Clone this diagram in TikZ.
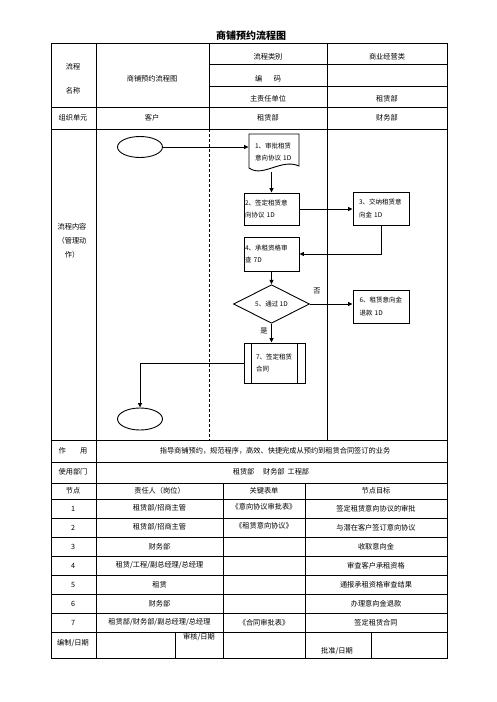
\documentclass[tikz,border=0pt]{standalone}
\usepackage{fontspec}
\setmainfont{Noto Sans CJK SC}
\usetikzlibrary{shapes.geometric,arrows.meta}

\begin{document}
\begin{tikzpicture}[x=1pt,y=-1pt,
  txt/.style={font=\fontsize{7.2}{9}\selectfont, inner sep=0pt},
  box/.style={draw, line width=0.9pt, font=\fontsize{6.5}{12.5}\selectfont,
              align=left, inner sep=0pt},
  term/.style={draw, ellipse, line width=0.9pt, minimum width=45,
               minimum height=21, inner sep=0pt},
  arr/.style={line width=0.9pt, -{Triangle[length=4.5pt,width=4pt]}},
  grid/.style={line width=0.7pt}]
  \useasboundingbox (0,0) rectangle (496,702);
  \node[font=\fontsize{10}{12}\selectfont\bfseries] (title) at (251,36) {商铺预约流程图};
  % frame and rules
  \draw[grid] (51,43) rectangle (447,658);
  \foreach \y in {64,86} \draw[grid] (209,\y) -- (447,\y);
  \foreach \y in {107,129,440,462,483,499,518,537,556,575,594,613,632}
    \draw[grid] (51,\y) -- (447,\y);
  \draw[grid] (96,43) -- (96,658);
  \draw[grid] (209,43) -- (209,129);
  \draw[grid, dash pattern=on 3pt off 2pt] (209,129) -- (209,440);
  \draw[grid] (327,43) -- (327,440);
  \draw[grid] (223,483) -- (223,658);
  \draw[grid] (305,483) -- (305,658);
  \draw[grid] (175,632) -- (175,658);
  \draw[grid] (371,632) -- (371,658);
  % header
  \node[txt] (hd1) at (73,67) {流程};
  \node[txt] (hd2) at (73,91) {名称};
  \node[txt] (hd3) at (152,79) {商铺预约流程图};
  \node[txt] (hd4) at (268,57) {流程类别};
  \node[txt] (hd5) at (387,57) {商业经营类};
  \node[txt] (hd6) at (268,79) {编\hspace{1.6em}码};
  \node[txt] (hd7) at (268,99) {主责任单位};
  \node[txt] (hd8) at (387,99) {租赁部};
  \node[txt] (un1) at (73,118) {组织单元};
  \node[txt] (un2) at (152,118) {客户};
  \node[txt] (un3) at (268,118) {租赁部};
  \node[txt] (un4) at (387,118) {财务部};
  \node[txt, align=center, font=\fontsize{7.2}{14}\selectfont] (lane) at (72,241)
    {流程内容\\（管理动\\作）};
  % flow
  \node[term] (start) at (140,147) {};
  \node[box, draw=none, minimum width=50, minimum height=40, text width=38] (d1)
    at (274,152) {1、审批租赁\\意向协议 1D};
  \draw[line width=0.9pt] (249,168) -- (249,134) -- (299,134) -- (299,166)
    .. controls (281,158) and (263,178) .. cycle;
  \node[box, minimum width=55, minimum height=32, text width=53] (b2)
    at (271.5,209) {2、签定租赁意\\向协议 1D};
  \node[box, minimum width=56, minimum height=33, text width=44] (b3)
    at (381,208.5) {3、交纳租赁意\\向金 1D};
  \node[box, minimum width=55, minimum height=34, text width=53] (b4)
    at (271.5,254) {4、承租资格审\\查 7D};
  \node[draw, diamond, line width=0.9pt, minimum width=76, minimum height=38,
        inner sep=0pt, font=\fontsize{6.5}{8}\selectfont] (dec) at (271.5,304) {5、通过 1D};
  \node[box, minimum width=56, minimum height=33, text width=43] (b6)
    at (381,306.5) {6、租赁意向金\\退款 1D};
  \node[box, minimum width=61, minimum height=40, text width=37] (b7)
    at (274.5,363) {7、签定租赁\\合同};
  \draw[line width=0.9pt] ([xshift=8pt]b7.north west) -- ([xshift=8pt]b7.south west);
  \draw[line width=0.9pt] ([xshift=-8pt]b7.north east) -- ([xshift=-8pt]b7.south east);
  \node[term, minimum height=22] (end) at (140,419) {};
  \draw[arr] (start.east) -- (start.east -| d1.west);
  \draw[arr] (b2.north |- d1.south) -- (b2.north);
  \draw[arr] (b2.east) -- (b2.east -| b3.west);
  \draw[arr] (b3.south) |- (b4.east);
  \draw[arr] (b4.south) -- (dec.north);
  \draw[arr] (dec.east) -- (dec.east -| b6.west);
  \draw[arr] (dec.south) -- (b7.north -| dec.south);
  \draw[arr] (b7.west) -| (end.north);
  \node[txt] (no) at (317,291) {否};
  \node[txt] (yes) at (264,331) {是};
  % purpose and departments
  \node[txt] (use1) at (73,451) {作\hspace{2em}用};
  \node[txt] (use2) at (275,451) {指导商铺预约，规范程序，高效、快捷完成从预约到租赁合同签订的业务};
  \node[txt] (dep1) at (73,472) {使用部门};
  \node[txt] (dep2) at (271,472) {租赁部\hspace{1.2em}财务部\hspace{0.4em}工程部};
  % node table
  \node[txt] (th1) at (73,491) {节点};
  \node[txt] (th2) at (159.5,491) {责任人（岗位）};
  \node[txt] (th3) at (264,491) {关键表单};
  \node[txt] (th4) at (376,491) {节点目标};
  \node[txt] (r1a) at (73,508.5) {1};
  \node[txt] (r1b) at (159.5,508.5) {租赁部/招商主管};
  \node[txt] (r1c) at (264,507) {《意向协议审批表》};
  \node[txt] (r1d) at (376,508.5) {签定租赁意向协议的审批};
  \node[txt] (r2a) at (73,527.5) {2};
  \node[txt] (r2b) at (159.5,527.5) {租赁部/招商主管};
  \node[txt] (r2c) at (264,526) {《租赁意向协议》};
  \node[txt] (r2d) at (376,527.5) {与潜在客户签订意向协议};
  \node[txt] (r3a) at (73,546.5) {3};
  \node[txt] (r3b) at (159.5,546.5) {财务部};
  \node[txt] (r3d) at (376,546.5) {收取意向金};
  \node[txt] (r4a) at (73,565.5) {4};
  \node[txt] (r4b) at (159.5,565.5) {租赁/工程/副总经理/总经理};
  \node[txt] (r4d) at (376,565.5) {审查客户承租资格};
  \node[txt] (r5a) at (73,584.5) {5};
  \node[txt] (r5b) at (159.5,584.5) {租赁};
  \node[txt] (r5d) at (376,584.5) {通报承租资格审查结果};
  \node[txt] (r6a) at (73,603.5) {6};
  \node[txt] (r6b) at (159.5,603.5) {财务部};
  \node[txt] (r6d) at (376,603.5) {办理意向金退款};
  \node[txt] (r7a) at (73,622.5) {7};
  \node[txt] (r7b) at (159.5,622.5) {租赁部/财务部/副总经理/总经理};
  \node[txt] (r7c) at (264,622.5) {《合同审批表》};
  \node[txt] (r7d) at (376,622.5) {签定租赁合同};
  \node[txt] (sg1) at (73,643) {编制/日期};
  \node[txt] (sg2) at (199,637) {审核/日期};
  \node[txt] (sg3) at (337,651) {批准/日期};
\end{tikzpicture}
\end{document}
